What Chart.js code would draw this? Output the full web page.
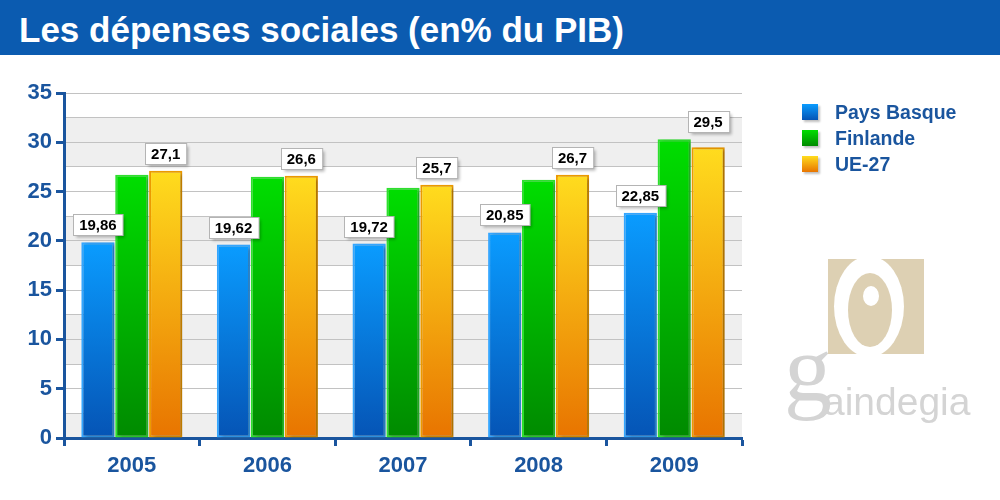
<!DOCTYPE html>
<html lang="fr">
<head>
<meta charset="utf-8">
<title>Les dépenses sociales (en% du PIB)</title>
<script src="https://cdn.jsdelivr.net/npm/chart.js@4"></script>
<style>
  html, body { margin: 0; padding: 0; background: #fff; }
  body { width: 1000px; height: 500px; position: relative; overflow: hidden; font-family: "Liberation Sans", Arial, sans-serif; }
  #chart { position: absolute; left: 0; top: 0; }
  .titlebar { position: absolute; left: 0; top: 0; width: 1000px; height: 55px; background: #0b5bb0; }
  .titlebar span { position: absolute; left: 19px; top: 12px; font-size: 35px; line-height: 35px; font-weight: bold; color: #fff; white-space: nowrap; }
  .legend { position: absolute; left: 802px; top: 102px; }
  .legend .row { height: 26px; position: relative; }
  .legend .sw { position: absolute; left: 0; top: 2px; width: 16px; height: 16px; box-shadow: 2px 2px 2px rgba(0,0,0,0.25); }
  .legend .lb { position: absolute; left: 33px; top: 0; font-size: 19.5px; line-height: 21px; font-weight: bold; color: #1a559e; white-space: nowrap; }
  .logo { position: absolute; left: 780px; top: 255px; width: 220px; height: 190px; }
  .logo .sq { position: absolute; left: 48px; top: 4px; width: 96px; height: 95px; background: #ddd0b3; overflow: hidden; }
  .logo .o1 { position: absolute; left: 6px; top: -3px; width: 70px; height: 101px; border-radius: 50%; background: #fff; }
  .logo .o2 { position: absolute; left: 20px; top: 14px; width: 44px; height: 74px; border-radius: 50%; background: #ddd0b3; }
  .logo .o3 { position: absolute; left: 35px; top: 27px; width: 16px; height: 20px; border-radius: 50%; background: #fff; }
  .logo .g { position: absolute; left: 4px; top: 66px; font-family: "Liberation Serif", serif; font-size: 96px; line-height: 96px; color: #d4d4d4; }
  .logo .rest { position: absolute; left: 43px; top: 127px; font-family: "Liberation Sans", sans-serif; font-size: 39px; line-height: 39px; color: #d4d4d4; }
</style>
</head>
<body>
<canvas id="chart" width="1000" height="500"></canvas>
<div class="titlebar"><span>Les dépenses sociales (en% du PIB)</span></div>
<div class="legend" id="legend"></div>
<div class="logo">
  <div class="sq"><div class="o1"></div><div class="o2"></div><div class="o3"></div></div>
  <div class="g">g</div>
  <div class="rest">aindegia</div>
</div>
<script>
// ── Data ──
const years = ['2005', '2006', '2007', '2008', '2009'];
const seriesNames = ['Pays Basque', 'Finlande', 'UE-27'];
const paysBasque = [19.86, 19.62, 19.72, 20.85, 22.85];
const finlande = [26.7, 26.5, 25.4, 26.2, 30.3];
const ue27 = [27.1, 26.6, 25.7, 26.7, 29.5];
const yMax = 35;
const yStep = 2.5;

// ── Styles ──
const AXIS_BLUE = '#1a559e';
const FONT = '"Liberation Sans", Arial, sans-serif';
const palettes = [
    { top: '#0a9cff', bottom: '#0554b5', border: '#34a6ff' },
    { top: '#00de00', bottom: '#008a00', border: '#2ee02e' },
    { top: '#ffdc1e', bottom: '#e87400', border: '#ec9a00' }
];

function barGradient(idx) {
    const p = palettes[idx];
    return function (ctx) {
        const chart = ctx.chart;
        const area = chart.chartArea;
        if (!area || !chart.scales.y || ctx.raw === undefined) return p.top;
        const yTop = chart.scales.y.getPixelForValue(ctx.raw);
        const g = chart.ctx.createLinearGradient(0, yTop, 0, area.bottom);
        g.addColorStop(0, p.top);
        g.addColorStop(1, p.bottom);
        return g;
    };
}

// legend (html)
const legendEl = document.getElementById('legend');
legendEl.innerHTML = seriesNames.map((name, i) =>
    `<div class="row"><div class="sw" style="background:linear-gradient(${palettes[i].top},${palettes[i].bottom})"></div>` +
    `<div class="lb">${name}</div></div>`).join('');

// alternating background bands + bar shadows + value boxes
const decoPlugin = {
    id: 'deco',
    beforeDraw(chart) {
        const { ctx, chartArea: a, scales: { y } } = chart;
        ctx.save();
        ctx.fillStyle = '#efefef';
        for (let lo = -yStep; lo < yMax; lo += 4 * yStep) {
            const v0 = Math.max(lo, 0), v1 = Math.min(lo + 2 * yStep, yMax);
            const p0 = y.getPixelForValue(v0), p1 = y.getPixelForValue(v1);
            ctx.fillRect(a.left, p1, a.right - a.left, p0 - p1);
        }
        ctx.restore();
    },
    beforeDatasetsDraw(chart) {
        const ctx = chart.ctx;
        ctx.save();
        ctx.shadowColor = 'rgba(0,0,0,0.28)';
        ctx.shadowBlur = 3;
        ctx.shadowOffsetX = 3;
        ctx.shadowOffsetY = 1;
    },
    afterDatasetsDraw(chart) {
        const ctx = chart.ctx;
        ctx.restore();
        ctx.save();
        ctx.font = 'bold 15px ' + FONT;
        ctx.textAlign = 'center';
        ctx.textBaseline = 'middle';
        chart.data.datasets.forEach((ds, di) => {
            if (!ds.showValue) return;
            const meta = chart.getDatasetMeta(di);
            meta.data.forEach((el, i) => {
                let top = el.y;
                // keep the box clear of a taller bar just to the left
                if (di > 0) {
                    const prev = chart.getDatasetMeta(di - 1).data[i];
                    if (prev && prev.y < top) top = prev.y;
                }
                const txt = String(ds.data[i]).replace('.', ',');
                const w = ctx.measureText(txt).width + 12;
                const h = 21;
                const bx = Math.round(el.x - w / 2) + 0.5;
                const by = Math.round(top - 7 - h) + 0.5;
                ctx.save();
                ctx.shadowColor = 'rgba(0,0,0,0.3)';
                ctx.shadowBlur = 3;
                ctx.shadowOffsetX = 2;
                ctx.shadowOffsetY = 2;
                ctx.fillStyle = '#fff';
                ctx.fillRect(bx, by, w, h);
                ctx.restore();
                ctx.strokeStyle = '#b4b4b4';
                ctx.lineWidth = 1;
                ctx.strokeRect(bx, by, w, h);
                ctx.fillStyle = '#000';
                ctx.fillText(txt, el.x, by + h / 2 + 1);
            });
        });
        ctx.restore();
    }
};

new Chart(document.getElementById('chart'), {
    type: 'bar',
    data: {
        labels: years,
        datasets: [
            { label: seriesNames[0], data: paysBasque, showValue: true },
            { label: seriesNames[1], data: finlande, showValue: false },
            { label: seriesNames[2], data: ue27, showValue: true }
        ].map((d, i) => Object.assign(d, {
            backgroundColor: barGradient(i),
            borderColor: palettes[i].border,
            borderWidth: 2,
            borderSkipped: false,
            categoryPercentage: 0.75,
            barPercentage: 0.98
        }))
    },
    options: {
        responsive: false,
        devicePixelRatio: 1,
        animation: false,
        layout: { padding: { top: 93, right: 258, bottom: 0, left: 0 } },
        plugins: {
            legend: { display: false },
            tooltip: { enabled: false },
            title: { display: false }
        },
        scales: {
            x: {
                afterFit(scale) { scale.height = 62; },
                grid: {
                    offset: true,
                    drawOnChartArea: false,
                    tickLength: 8,
                    tickColor: AXIS_BLUE,
                    tickWidth: 3
                },
                border: { color: AXIS_BLUE, width: 3 },
                ticks: {
                    color: AXIS_BLUE,
                    padding: 7,
                    font: { family: FONT, size: 22, weight: 'bold' }
                }
            },
            y: {
                min: 0,
                max: yMax,
                afterFit(scale) { scale.width = 64; },
                grid: {
                    color: '#c2c2c2',
                    lineWidth: 1,
                    tickLength: 8,
                    tickWidth: 3,
                    tickColor: (c) => (c.tick && c.tick.value % 5 === 0) ? AXIS_BLUE : 'rgba(0,0,0,0)'
                },
                border: { color: AXIS_BLUE, width: 3 },
                ticks: {
                    stepSize: yStep,
                    color: AXIS_BLUE,
                    padding: 4,
                    autoSkip: false,
                    callback: (v) => (v % 5 === 0 ? v : ''),
                    font: { family: FONT, size: 22, weight: 'bold' }
                }
            }
        }
    },
    plugins: [decoPlugin]
});
</script>
</body>
</html>
